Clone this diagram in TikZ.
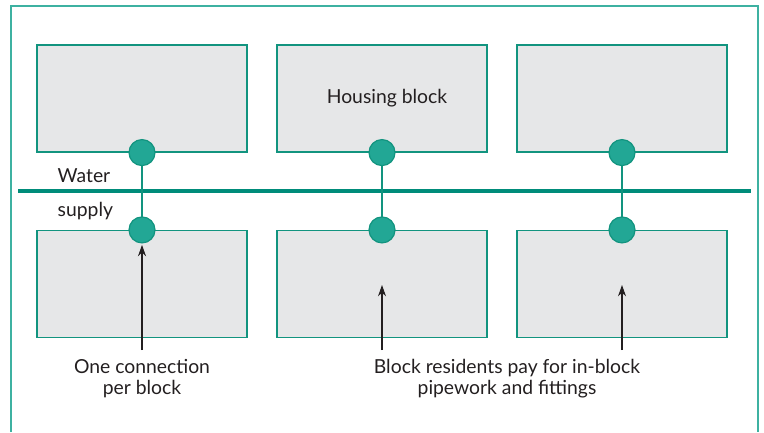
\documentclass[tikz,border=0pt]{standalone}
\usepackage{fontspec}
\setmainfont{Lato}
\usetikzlibrary{arrows.meta}

\definecolor{tealedge}{HTML}{12947F}
\definecolor{tealmain}{HTML}{008C7A}
\definecolor{tealdot}{HTML}{22A795}
\definecolor{tealframe}{HTML}{3DB1A1}
\definecolor{blockgrey}{HTML}{E6E7E8}
\definecolor{inktext}{HTML}{231F20}

\tikzset{
  block/.style={draw=tealedge, fill=blockgrey, line width=1.1pt,
    minimum width=157.5pt, minimum height=80pt, inner sep=0pt},
  tap/.style={circle, draw=tealedge, fill=tealdot, line width=0.9pt,
    minimum size=19.5pt, inner sep=0pt},
  pipe/.style={draw=tealedge, line width=1.1pt},
  main/.style={draw=tealmain, line width=3pt},
  note/.style={text=inktext, font=\fontsize{14.5pt}{15.75pt}\selectfont, align=center},
  pointer/.style={draw=inktext, line width=0.8pt, -{Stealth[length=8.5pt,width=6pt]}}
}

\begin{document}
\begin{tikzpicture}[x=0.75pt, y=-0.75pt]
\useasboundingbox (0,0) rectangle (764,432);
\clip (0,0) rectangle (764,432);

% outer frame, open at the bottom
\draw[tealframe, line width=1.1pt] (11,432) |- (758,6) -- (758,432);

% housing blocks
\node[block] (t1) at (142,98.5) {};
\node[block] (t2) at (382,98.5) {};
\node[block] (t3) at (622,98.5) {};
\node[block] (b1) at (142,284) {};
\node[block] (b2) at (382,284) {};
\node[block] (b3) at (622,284) {};
\node[note] (hb) at (387,98) {Housing block};

% water supply main
\coordinate (mainL) at (18,191);
\coordinate (mainR) at (751,191);
\draw[main] (mainL) -- (mainR);
\node[note, anchor=base west] (water) at (53,182) {Water};
\node[note, anchor=base west] (supply) at (53,216) {supply};

% one connection per block
\draw[pipe] (t1.south) -- (b1.north);
\draw[pipe] (t2.south) -- (b2.north);
\draw[pipe] (t3.south) -- (b3.north);
\node[tap] (d1) at (t1.south) {};
\node[tap] (d2) at (t2.south) {};
\node[tap] (d3) at (t3.south) {};
\node[tap] (e1) at (b1.north) {};
\node[tap] (e2) at (b2.north) {};
\node[tap] (e3) at (b3.north) {};

% labels and pointers
\node[note] (conn) at (142,379) {One connection\\per block};
\node[note] (pay) at (507,379) {Block residents pay for in-block\\pipework and fittings};
\coordinate (s1) at (142,350);
\coordinate (s2) at (382,350);
\coordinate (s3) at (622,350);
\coordinate (p2) at (382,285);
\coordinate (p3) at (622,285);
\draw[pointer] (s1) -- ([yshift=-1pt]e1.south);
\draw[pointer] (s2) -- (p2);
\draw[pointer] (s3) -- (p3);
\end{tikzpicture}
\end{document}
